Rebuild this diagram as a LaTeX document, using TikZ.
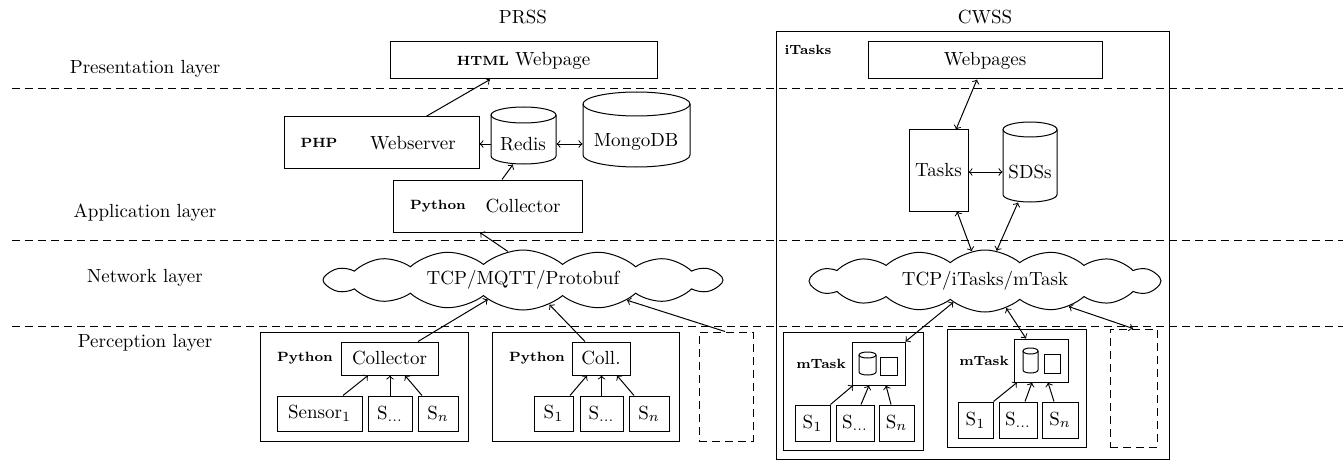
\documentclass[tikz,border=0pt]{standalone}
\usetikzlibrary{fit,calc,shapes.symbols}
\newcommand\mycyl[6]{%
  \pgfmathsetmacro\cylcx{(#2+#4)/2}%
  \pgfmathsetmacro\cylrx{(#4-#2)/4}%
  \pgfmathsetmacro\cylry{#6/2}%
  \draw (#2,#3+#6) -- (#2,#5-#6) arc[start angle=180,end angle=360,x radius=\cylrx pt,y radius=\cylry pt] -- (#4,#3+#6);
  \draw (\cylcx,#3+#6) ellipse[x radius=\cylrx pt, y radius=\cylry pt];
  \node[inner sep=0pt, fit={(#2,#3)(#4,#5)}] (#1) {};
}
\newcommand\bx[7]{% style name x1 y1 x2 y2 text
  \pgfmathsetmacro\bxw{(#5-#3)/2}%
  \pgfmathsetmacro\bxh{(#6-#4)/2}%
  \node[#1, minimum width=\bxw pt, minimum height=\bxh pt] (#2) at ({(#3+#5)/2},{(#4+#6)/2}) {#7};
}
\begin{document}
\begin{tikzpicture}[x=0.5pt,y=-0.5pt,
  every node/.style={font=\fontsize{9.5}{11}\selectfont},
  box/.style={draw, inner sep=0pt},
  dbox/.style={draw, inner sep=0pt, dash pattern=on 4pt off 2.5pt},
  tag/.style={font=\fontsize{6.7}{8}\selectfont\bfseries, inner sep=1pt},
  sep/.style={dash pattern=on 4pt off 2.5pt},
  cl/.style={cloud, draw, cloud puffs=16, cloud puff arc=80, cloud ignores aspect, inner sep=0pt},
  line width=0.5pt, >=to]
\useasboundingbox (0,0) rectangle (1343,460);

% layer separators
\coordinate (s1a) at (12,89); \coordinate (s1b) at (1343,89);
\coordinate (s2a) at (12,240); \coordinate (s2b) at (1343,240);
\coordinate (s3a) at (12,326); \coordinate (s3b) at (1343,326);
\draw[sep] (s1a) -- (s1b);
\draw[sep] (s2a) -- (s2b);
\draw[sep] (s3a) -- (s3b);

% layer labels
\node (l1) at (145,69) {Presentation layer};
\node (l2) at (145,213) {Application layer};
\node (l3) at (145,278) {Network layer};
\node (l4) at (145,343) {Perception layer};

% titles
\node (tprss) at (523,17) {PRSS};
\node (tcwss) at (985,17) {CWSS};

% ---------- PRSS ----------
\bx{box}{wp}{390}{42}{657}{79}{\textbf{\fontsize{6.7}{8}\selectfont HTML} Webpage}
\bx{box}{ws}{284}{117}{479}{168}{}
\node[tag] (wsphp) at (319,143) {PHP};
\node (wst) at (413,143) {Webserver};
\mycyl{redis}{491}{107}{556}{164}{8}
\node (redist) at (523,144) {Redis};
\mycyl{mongo}{583}{92}{690}{167}{12}
\node (mongot) at (636,142) {MongoDB};
\bx{box}{col}{393}{180}{582}{232}{}
\node[tag] (colpy) at (438,206) {Python};
\node (colt) at (523,206) {Collector};

\node[cl, minimum width=200pt, minimum height=30pt] (c1) at (523,280) {TCP/MQTT/Protobuf};

\bx{box}{pb1}{260}{332}{468}{441}{}
\node[tag] (pb1py) at (305,358) {Python};
\bx{box}{col1}{341}{342}{438}{375}{Collector}
\bx{box}{sen1}{277}{396}{362}{431}{Sensor$_1$}
\bx{box}{sd1}{368}{396}{412}{431}{S$_{\dots}$}
\bx{box}{sn1}{418}{396}{458}{431}{S$_{n}$}

\bx{box}{pb2}{492}{332}{679}{441}{}
\node[tag] (pb2py) at (537,358) {Python};
\bx{box}{col2}{572}{342}{630}{375}{Coll.}
\bx{box}{s21}{534}{396}{573}{431}{S$_1$}
\bx{box}{s2d}{580}{396}{623}{431}{S$_{\dots}$}
\bx{box}{s2n}{629}{396}{669}{431}{S$_{n}$}

\bx{dbox}{pd}{699}{332}{753}{441}{}

% PRSS arrows
\draw[->] ($(ws.north)+(44.5,0)$) -- ($(wp.south)+(-33.5,0)$);
\draw[->] (redis.west |- redist) -- (ws.east |- redist);
\draw[<->] (redis.east |- redist) -- (mongo.west |- redist);
\draw[->] ($(col.north)+(14.5,0)$) -- ($(redis.south)+(-10.5,0)$);
\draw[->] (c1.118) -- ($(col.south)+(-7.5,0)$);
\draw[->] ($(col1.north)+(28.5,0)$) -- (c1.209);
\draw[->] ($(sen1.north)+(23.5,0)$) -- ($(col1.south)+(-21.5,0)$);
\draw[->] (sd1.north) -- (sd1.north |- col1.south);
\draw[->] ($(sn1.north)+(-16,0)$) -- ($(col1.south)+(15.5,0)$);
\draw[->] ($(col2.north)+(-16,0)$) -- (c1.-43);
\draw[->] ($(s21.north)+(16.5,0)$) -- ($(col2.south)+(-14,0)$);
\draw[->] (s2d.north) -- (s2d.north |- col2.south);
\draw[->] ($(s2n.north)+(-15,0)$) -- ($(col2.south)+(16,0)$);
\draw[->] ($(pd.north)+(-1,0)$) -- (c1.-11);

% ---------- CWSS ----------
\bx{box}{outer}{776}{32}{1169}{459}{}
\node[tag] (itag) at (808,50) {iTasks};
\bx{box}{wps}{868}{42}{1102}{79}{Webpages}
\bx{box}{tasks}{909}{130}{968}{211}{Tasks}
\mycyl{sds}{1003}{122}{1057}{202}{7.5}
\node (sdst) at (1030,172) {SDSs};

\node[cl, minimum width=176pt, minimum height=31pt] (c2) at (985,281) {TCP/iTasks/mTask};

\bx{box}{mb1}{783}{332}{923}{450}{}
\node[tag] (mb1t) at (821,364) {mTask};
\bx{box}{mi1}{852}{342}{905}{385}{}
\mycyl{mc1}{859}{352}{876}{375}{3}
\bx{box}{mq1}{880}{357}{897}{375}{}
\bx{box}{m11}{795}{405}{830}{441}{S$_1$}
\bx{box}{m1d}{836}{405}{874}{441}{S$_{\dots}$}
\bx{box}{m1n}{879}{405}{914}{441}{S$_{n}$}

\bx{box}{mb2}{947}{329}{1086}{447}{}
\node[tag] (mb2t) at (984,361) {mTask};
\bx{box}{mi2}{1014}{339}{1068}{382}{}
\mycyl{mc2}{1023}{348}{1038}{373}{3}
\bx{box}{mq2}{1044}{354}{1060}{373}{}
\bx{box}{m21}{958}{402}{993}{438}{S$_1$}
\bx{box}{m2d}{999}{402}{1037}{438}{S$_{\dots}$}
\bx{box}{m2n}{1042}{402}{1078}{438}{S$_{n}$}

\bx{dbox}{pd2}{1110}{329}{1157}{447}{}

% CWSS arrows
\draw[<->] ($(wps.south)+(-8,0)$) -- ($(tasks.north)+(17.5,0)$);
\draw[<->] (tasks.east |- sdst) -- (sds.west |- sdst);
\draw[<->] ($(tasks.south)+(18.5,0)$) -- (c2.114);
\draw[<->] ($(sds.south)+(-12,0)$) -- (c2.69);
\draw[<->] (mi1.north east) -- (c2.214);
\draw[<->] ($(mi2.north)+(-15,0)$) -- (c2.-52);
\draw[<->] ($(pd2.north)+(-0.5,0)$) -- (c2.-17);
\draw[->] (m11.north east) -- ($(mi1.south)+(-25.5,0)$);
\draw[->] ($(m1d.north)+(6,0)$) -- ($(mi1.south)+(-9.5,0)$);
\draw[->] ($(m1n.north)+(-5.5,0)$) -- ($(mi1.south)+(7.5,0)$);
\draw[->] (m21.north east) -- ($(mi2.south)+(-24,0)$);
\draw[->] ($(m2d.north)+(7,0)$) -- ($(mi2.south)+(-9,0)$);
\draw[->] ($(m2n.north)+(-6,0)$) -- ($(mi2.south)+(7,0)$);
\end{tikzpicture}
\end{document}
